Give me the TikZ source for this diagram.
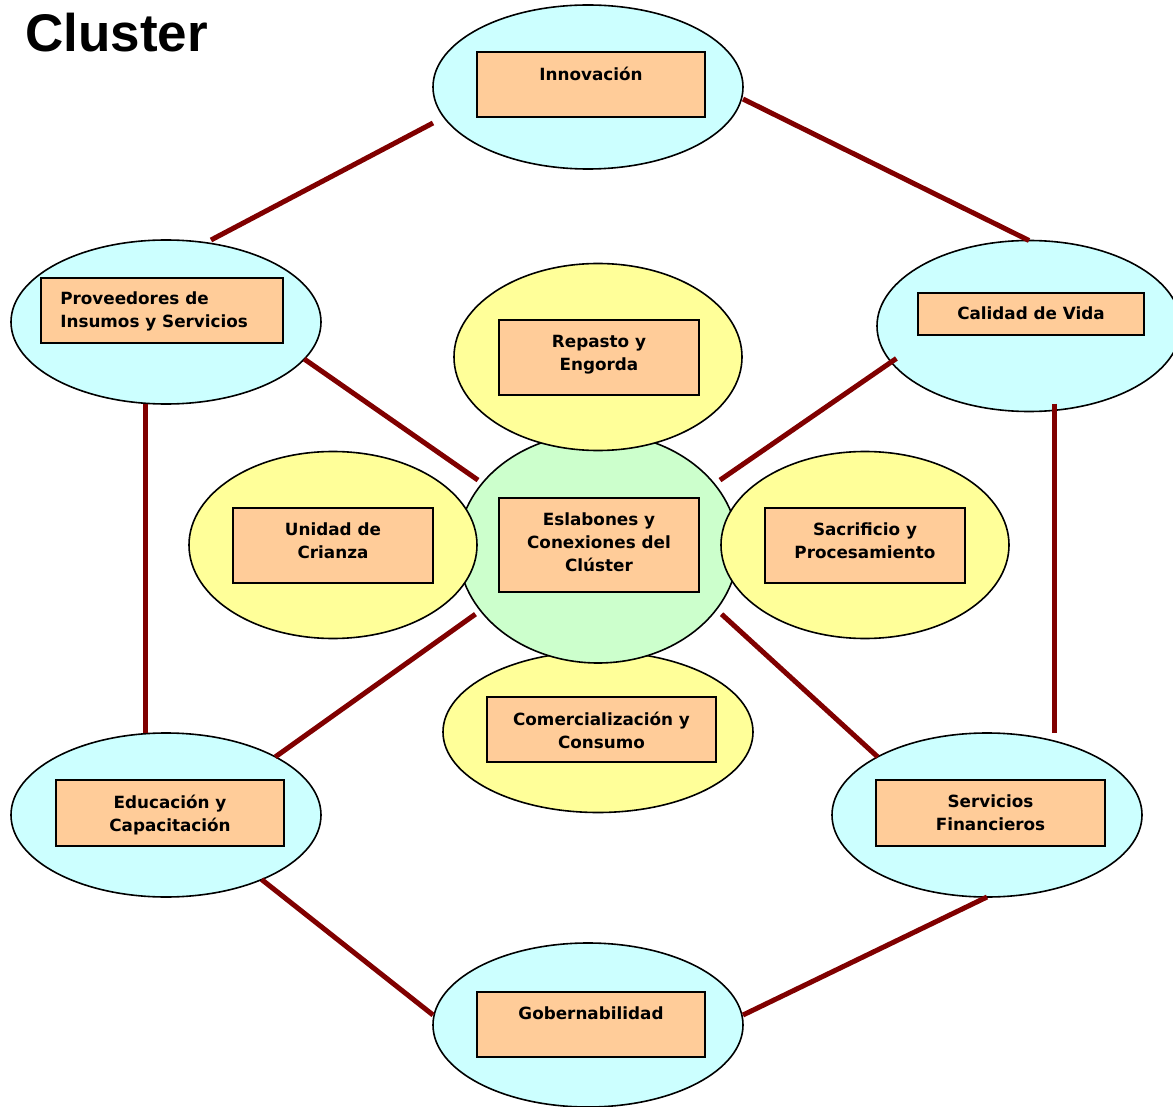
\documentclass[tikz,border=0pt]{standalone}
\usepackage{fontspec}
\usetikzlibrary{shapes.geometric,positioning}
\newfontfamily\boxfont{DejaVu Sans}
\newfontfamily\titlefont{Liberation Sans}
\definecolor{cyanfill}{HTML}{CCFFFF}
\definecolor{yellowfill}{HTML}{FFFF99}
\definecolor{greenfill}{HTML}{CCFFCC}
\definecolor{boxfill}{HTML}{FFCC99}
\definecolor{linkred}{HTML}{800000}

\begin{document}
\begin{tikzpicture}[x=1pt,y=-1pt,
  ell/.style={ellipse,draw=black,line width=1.6pt,inner sep=0pt,outer sep=0pt},
  ringell/.style={ell,fill=cyanfill,minimum width=310pt,minimum height=164pt},
  midell/.style={ell,fill=yellowfill,minimum width=288pt,minimum height=187pt},
  tbox/.style={draw=black,line width=1.8pt,fill=boxfill,inner sep=0pt},
  lbl/.style={font=\boxfont\bfseries\fontsize{16.8}{23}\selectfont,align=center,inner sep=0pt},
  conn/.style={draw=linkred,line width=5pt}]
\useasboundingbox (0,0) rectangle (1173,1107);
\clip (0,0) rectangle (1173,1107);

% title
\node[anchor=base west,inner sep=0pt,font=\titlefont\bfseries\fontsize{53}{60}\selectfont] (title) at (25,52) {Cluster};

% outer ring
\node[ringell] (inn) at (588,87) {};
\node[ringell] (prov) at (166,322) {};
\node[ringell,minimum width=304pt,minimum height=171pt] (cal) at (1029,326) {};
\node[ringell] (edu) at (166,815) {};
\node[ringell] (ser) at (987,815) {};
\node[ringell] (gob) at (588,1025) {};

% centre
\node[midell,minimum width=310pt,minimum height=161pt] (com) at (598,732) {};
\node[ell,fill=greenfill,minimum width=280pt,minimum height=230pt] (esl) at (598,548) {};
\node[midell] (rep) at (598,357) {};
\node[midell] (uni) at (333,545) {};
\node[midell] (sac) at (865,545) {};

% links
\draw[conn] ([yshift=-36pt]inn.west) -- ([xshift=45pt]prov.north);
\draw[conn] ([yshift=-12pt]inn.east) -- (cal.north);
\draw[conn] (prov.-15) -- ([xshift=-7pt]esl.149);
\draw[conn] ([xshift=8pt]cal.193) -- ([xshift=9pt]esl.31);
\draw[conn] ([xshift=-21pt]prov.south) -- ([xshift=-21pt]edu.north);
\draw[conn] ([xshift=25pt,yshift=8pt]cal.south) -- ([xshift=67pt]edu.north -| ser.north);
\draw[conn] ([xshift=-8pt]esl.210) -- (edu.28);
\draw[conn] ([xshift=9pt]esl.-30) -- (ser.152);
\draw[conn] (edu.-34) -- ([yshift=10pt]gob.west);
\draw[conn] (ser.south) -- ([yshift=10pt]gob.east);

% boxes
\node[tbox,minimum width=228pt,minimum height=65pt] (innb) at (591,84.5) {};
\node[tbox,minimum width=242pt,minimum height=65pt] (provb) at (162,310.5) {};
\node[tbox,minimum width=226pt,minimum height=42pt] (calb) at (1031,314) {};
\node[tbox,minimum width=200pt,minimum height=75pt] (repb) at (599,357.5) {};
\node[tbox,minimum width=200pt,minimum height=75pt] (unib) at (333,545.5) {};
\node[tbox,minimum width=200pt,minimum height=94pt] (eslb) at (599,545) {};
\node[tbox,minimum width=200pt,minimum height=75pt] (sacb) at (865,545.5) {};
\node[tbox,minimum width=229pt,minimum height=65pt] (comb) at (601.5,729.5) {};
\node[tbox,minimum width=228pt,minimum height=66pt] (edub) at (170,813) {};
\node[tbox,minimum width=229pt,minimum height=66pt] (serb) at (990.5,813) {};
\node[tbox,minimum width=228pt,minimum height=65pt] (gobb) at (591,1024.5) {};

% texts
\node[lbl,below=15.5pt of innb.north] (innt) {Innovación};
\node[lbl,align=left,below right=14.5pt and 20pt of provb.north west] (provt) {Proveedores de\\Insumos y Servicios};
\node[lbl,below=14.5pt of calb.north] (calt) {Calidad de Vida};
\node[lbl,below=15.5pt of repb.north] (rept) {Repasto y\\Engorda};
\node[lbl,below=15.5pt of unib.north] (unit) {Unidad de\\Crianza};
\node[lbl,below=15.5pt of eslb.north] (eslt) {Eslabones y\\Conexiones del\\Clúster};
\node[lbl,below=15.5pt of sacb.north] (sact) {Sacrificio y\\Procesamiento};
\node[lbl,below=15.5pt of comb.north] (comt) {Comercialización y\\Consumo};
\node[lbl,below=15.5pt of edub.north] (edut) {Educación y\\Capacitación};
\node[lbl,below=15.5pt of serb.north] (sert) {Servicios\\Financieros};
\node[lbl,below=15.5pt of gobb.north] (gobt) {Gobernabilidad};
\end{tikzpicture}
\end{document}
